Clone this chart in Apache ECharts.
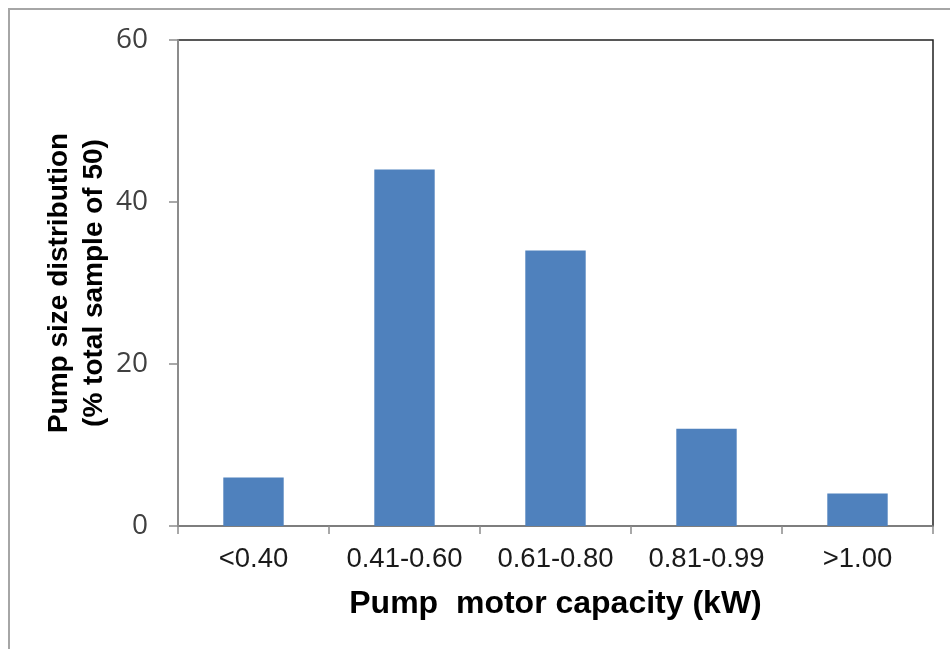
<!DOCTYPE html>
<html>
<head>
<meta charset="utf-8">
<script src="https://cdn.jsdelivr.net/npm/echarts@6/dist/echarts.min.js"></script>
<style>
  html, body { margin: 0; padding: 0; background: #ffffff; }
  #chart { width: 950px; height: 649px; }
</style>
</head>
<body>
<div id="chart"></div>
<script>
// Pump motor capacity classes (kW)
const categories = ['<0.40', '0.41-0.60', '0.61-0.80', '0.81-0.99', '>1.00'];
// Share of the 50 surveyed pumps in each class (%)
const shares = [6, 44, 34, 12, 4];
// Value axis ticks
const yTicks = [0, 20, 40, 60];

const chart = echarts.init(document.getElementById('chart'), null, { renderer: 'canvas' });

chart.setOption({
  animation: false,
  backgroundColor: '#ffffff',
  graphic: [
    {
      type: 'polyline',
      silent: true,
      shape: { points: [[9, 649], [9, 9], [950, 9]] },
      style: { stroke: '#a6a6a6', lineWidth: 2, fill: null }
    }
  ],
  grid: {
    left: 178, top: 40, right: 17, bottom: 123,
    show: true,
    borderColor: '#202020',
    borderWidth: 1.5,
    backgroundColor: 'transparent'
  },
  xAxis: {
    type: 'category',
    data: categories,
    axisLine: { lineStyle: { color: '#8c8c8c', width: 1.5 } },
    axisTick: { show: true, length: 8, alignWithLabel: false, lineStyle: { color: '#8c8c8c', width: 1.5 } },
    axisLabel: {
      interval: 0,
      hideOverlap: false,
      margin: 19,
      color: '#1a1a1a',
      fontFamily: 'Liberation Sans, Arial, sans-serif',
      fontSize: 27.5
    },
    name: 'Pump  motor capacity (kW)',
    nameLocation: 'middle',
    nameGap: 62,
    nameTextStyle: {
      color: '#000000',
      fontFamily: 'Liberation Sans, Arial, sans-serif',
      fontWeight: 'bold',
      fontSize: 32
    }
  },
  yAxis: {
    type: 'value',
    min: yTicks[0],
    max: yTicks[yTicks.length - 1],
    interval: yTicks[1] - yTicks[0],
    splitLine: { show: false },
    axisLine: { show: true, lineStyle: { color: '#8c8c8c', width: 2 } },
    axisTick: { show: true, length: 9, lineStyle: { color: '#8c8c8c', width: 1.5 } },
    axisLabel: {
      margin: 30,
      color: '#404040',
      fontFamily: 'Open Sans, sans-serif',
      fontSize: 28
    },
    name: 'Pump size distribution\n(% total sample of 50)',
    nameLocation: 'middle',
    nameMoveOverlap: false,
    nameGap: 66,
    nameTextStyle: {
      color: '#000000',
      fontFamily: 'Liberation Sans, Arial, sans-serif',
      fontWeight: 'bold',
      fontSize: 28,
      lineHeight: 35
    }
  },
  series: [
    {
      type: 'bar',
      data: shares,
      barWidth: '40%',
      itemStyle: { color: '#4f81bd' }
    }
  ]
});
</script>
</body>
</html>
